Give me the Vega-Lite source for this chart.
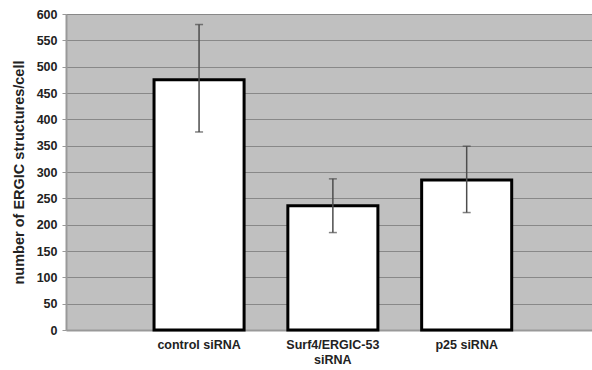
{
  "$schema": "https://vega.github.io/schema/vega-lite/v6.json",
  "width": 526,
  "height": 316,
  "autosize": {"type": "none"},
  "padding": {"left": 66, "top": 14, "right": 0, "bottom": 40},
  "background": "white",
  "config": {
    "view": {"fill": "#c0c0c0", "stroke": null},
    "font": "Liberation Sans",
    "axisY": {
      "tickCount": 12,
      "labelOverlap": false,
      "labelFont": "Liberation Sans",
      "labelFontWeight": "bold",
      "labelFontSize": 12.5,
      "labelColor": "#222",
      "labelPadding": 5,
      "tickSize": 4,
      "tickColor": "#999999",
      "domainColor": "#999999",
      "domainWidth": 2,
      "gridColor": "#888888",
      "gridWidth": 1,
      "titleFont": "Liberation Sans",
      "titleFontWeight": "bold",
      "titleFontSize": 14.5,
      "titleColor": "#222",
      "titlePadding": 10
    }
  },
  "data": {
    "values": [
      {"condition": "control siRNA", "mean": 475, "low": 376, "high": 580},
      {"condition": "Surf4/ERGIC-53 siRNA", "mean": 236, "low": 185, "high": 287},
      {"condition": "p25 siRNA", "mean": 285, "low": 223, "high": 349}
    ]
  },
  "encoding": {
    "x": {
      "field": "condition",
      "type": "nominal",
      "sort": null,
      "scale": {"paddingInner": 0.327, "paddingOuter": 0.629, "align": 0.523},
      "axis": {
        "title": null,
        "labelAngle": 0,
        "labelFont": "Liberation Sans",
        "labelFontWeight": "bold",
        "labelFontSize": 12.5,
        "labelColor": "#222",
        "labelPadding": 8,
        "labelLineHeight": 15.5,
        "labelExpr": "datum.label == 'Surf4/ERGIC-53 siRNA' ? ['Surf4/ERGIC-53', 'siRNA'] : datum.label",
        "ticks": false,
        "domainColor": "#999999",
        "domainWidth": 2,
        "grid": false
      }
    }
  },
  "layer": [
    {
      "mark": {"type": "bar", "fill": "white", "stroke": "black", "strokeWidth": 3},
      "encoding": {
        "y": {
          "field": "mean",
          "type": "quantitative",
          "scale": {"domain": [0, 600], "nice": false},
          "axis": {"title": "number of ERGIC structures/cell"}
        }
      }
    },
    {
      "mark": {"type": "rule", "color": "#4d4d4d", "strokeWidth": 1.5},
      "encoding": {
        "y": {"field": "low", "type": "quantitative"},
        "y2": {"field": "high"}
      }
    },
    {
      "mark": {"type": "tick", "color": "#4d4d4d", "thickness": 1.5, "size": 8},
      "encoding": {
        "y": {"field": "low", "type": "quantitative"}
      }
    },
    {
      "mark": {"type": "tick", "color": "#4d4d4d", "thickness": 1.5, "size": 8},
      "encoding": {
        "y": {"field": "high", "type": "quantitative"}
      }
    }
  ]
}
